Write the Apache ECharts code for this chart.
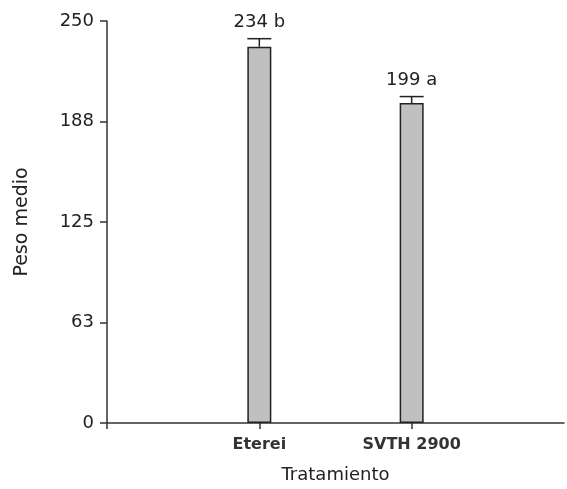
<!DOCTYPE html>
<html><head><meta charset="utf-8">
<script src="https://cdn.jsdelivr.net/npm/echarts@6/dist/echarts.min.js"></script>
<style>html,body{margin:0;padding:0;background:#fff}#c{width:567px;height:489px}</style>
</head><body><div id="c"></div>
<script>
var categories = ['', 'Eterei', 'SVTH 2900', ''];
var means = [null, 234, 199, null];
var errors = [null, 5, 4, null];
var letters = ['', 'b', 'a', ''];
var yTicks = [0, 62.5, 125, 187.5, 250];

var FONT = 'DejaVu Sans';
var chart = echarts.init(document.getElementById('c'));
var errData = [];
for (var i = 0; i < categories.length; i++) {
  if (means[i] != null) errData.push([i, means[i], errors[i], means[i] + ' ' + letters[i]]);
}
chart.setOption({
  animation: false,
  grid: {left: 107, right: -1, top: 21, bottom: 65, containLabel: false},
  xAxis: {
    type: 'category', data: categories, boundaryGap: false,
    name: 'Tratamiento', nameLocation: 'middle', nameGap: 43,
    nameTextStyle: {fontFamily: FONT, fontSize: 18, color: '#222'},
    axisLine: {lineStyle: {color: '#333', width: 1.5}},
    axisTick: {show: true, length: 6, lineStyle: {color: '#333', width: 1.5},
      interval: function (idx) { return idx < categories.length - 1; }},
    axisLabel: {fontFamily: FONT, fontSize: 16, fontWeight: 'bold', color: '#333', margin: 14}
  },
  yAxis: {
    type: 'value', min: yTicks[0], max: yTicks[yTicks.length - 1], interval: yTicks[1] - yTicks[0],
    name: 'Peso medio', nameLocation: 'middle', nameGap: 75, nameRotate: 90,
    nameTextStyle: {fontFamily: FONT, fontSize: 19, color: '#222'},
    splitLine: {show: false},
    axisLine: {show: true, lineStyle: {color: '#333', width: 1.5}},
    axisTick: {show: true, length: 7, lineStyle: {color: '#333', width: 1.5}},
    axisLabel: {fontFamily: FONT, fontSize: 18, color: '#222', margin: 13,
      formatter: function (v) { return String(Math.round(v)); }}
  },
  series: [
    {
      type: 'bar', data: means, barWidth: 24,
      itemStyle: {color: '#c0c0c0', borderColor: '#222', borderWidth: 1.5}
    },
    {
      type: 'custom', data: errData, z: 5,
      renderItem: function (params, api) {
        var x = api.value(0), m = api.value(1), e = api.value(2);
        var p0 = api.coord([x, m]);
        var p1 = api.coord([x, m + e]);
        var hw = 12;
        return {
          type: 'group',
          children: [
            {type: 'line', shape: {x1: p0[0], y1: p0[1], x2: p1[0], y2: p1[1]}, style: {stroke: '#222', lineWidth: 1.5}},
            {type: 'line', shape: {x1: p1[0] - hw, y1: p1[1], x2: p1[0] + hw, y2: p1[1]}, style: {stroke: '#222', lineWidth: 1.5}},
            {type: 'text', x: p1[0], y: p1[1] - 7, style: {text: api.value(3), textAlign: 'center', textVerticalAlign: 'bottom', fontFamily: FONT, fontSize: 18, fill: '#222'}}
          ]
        };
      }
    }
  ]
});
</script></body></html>
